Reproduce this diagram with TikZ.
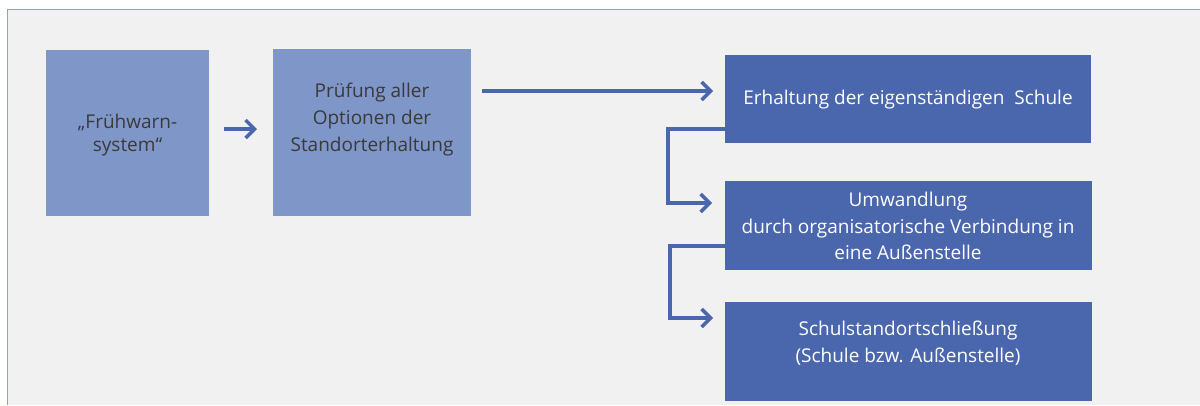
\documentclass[tikz,border=0pt]{standalone}
\usepackage{fontspec}
\setmainfont{Open Sans}
\usetikzlibrary{arrows.meta}
\definecolor{bgc}{HTML}{F1F1F1}
\definecolor{framec}{HTML}{8FA3C0}
\definecolor{lightb}{HTML}{7F96C8}
\definecolor{darkb}{HTML}{4A66AC}
\definecolor{arrc}{HTML}{4A66AC}
\definecolor{txtd}{HTML}{3A3A3A}
\tikzset{
  lighttext/.style={text=txtd, align=center, inner sep=0pt, font=\fontsize{19}{27}\selectfont},
  darktext/.style={text=white, align=center, inner sep=0pt, font=\fontsize{19}{26.5}\selectfont},
  conn/.style={draw=arrc, line width=3.5pt, -{Straight Barb[length=9pt, width=18pt, line width=3.5pt]}},
}
\begin{document}
\begin{tikzpicture}[x=1pt, y=-1pt]
\useasboundingbox (0,0) rectangle (1200,405);
\fill[white] (0,0) rectangle (1200,405);
\fill[bgc] (7,9) rectangle (1200,405);
\draw[framec, line width=1pt] (7,405) -- (7,9) -- (1200,9);
% boxes
\fill[lightb] (46,50) rectangle (209,216);
\node[lighttext, font=\fontsize{19}{23.5}\selectfont] (fw) at (127.5,135) {„Frühwarn-\\system“};
\fill[lightb] (273,49) rectangle (471,216);
\node[lighttext] (pr) at (372,120) {Prüfung aller\\Optionen der\\Standorterhaltung};
\coordinate (prr) at (482,91);
\coordinate (fwr) at (224,129);
\coordinate (prl) at (257,129);
\fill[darkb] (725,55) rectangle (1091,143);
\node[darktext] (er) at (908,100) {Erhaltung der eigenständigen\ \ Schule};
\fill[darkb] (725,181) rectangle (1092,270);
\node[darktext] (um) at (908,226) {Umwandlung\\durch organisatorische Verbindung in\\eine Außenstelle};
\fill[darkb] (725,302) rectangle (1092,401);
\node[darktext] (sc) at (908,343) {Schulstandortschließung\\(Schule bzw. Außenstelle)};
\coordinate (erl) at (726,129);
\coordinate (uml) at (726,246);
\coordinate (e1) at (712,203);
\coordinate (e2) at (713,318);
\coordinate (e0) at (713,91);
% connectors
\draw[conn] (fwr) -- (prl);
\draw[conn] (prr) -- (e0);
\draw[conn] (erl) -| (668,203) -- (e1);
\draw[conn] (uml) -| (670,318) -- (e2);
\end{tikzpicture}
\end{document}
